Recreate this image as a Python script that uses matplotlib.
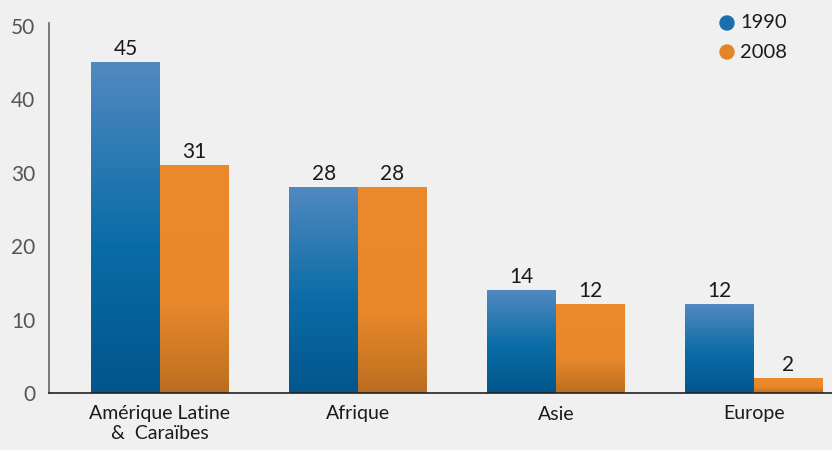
import numpy as np
import matplotlib
matplotlib.use("Agg")
import matplotlib.pyplot as plt
from matplotlib.colors import LinearSegmentedColormap
from matplotlib.patches import Ellipse

categories = ["Amérique Latine\n&  Caraïbes", "Afrique", "Asie", "Europe"]
series_names = ["1990", "2008"]
values_1990 = [45, 28, 14, 12]
values_2008 = [31, 28, 12, 2]
yticks = [0, 10, 20, 30, 40, 50]

bg = "#eff0ef"
plt.rcParams['font.family'] = ['Lato', 'DejaVu Sans']

fig = plt.figure(figsize=(8.32, 4.5), dpi=100, facecolor=bg)
ax = fig.add_axes([49/832, 1-393/450, 1-49/832, 370/450], facecolor=bg)

blue_cmap = LinearSegmentedColormap.from_list(
    "b", [(0, "#03558c"), (0.45, "#0a6ca6"), (1.0, "#5189c0")])
orange_cmap = LinearSegmentedColormap.from_list(
    "o", [(0, "#b86d22"), (0.12, "#c97723"), (0.4, "#e9882b"), (1.0, "#ea8a2c")])

x = np.arange(len(categories))
w = 0.346
grad = np.linspace(0, 1, 256).reshape(-1, 1)

for vals, cmap, off in [(values_1990, blue_cmap, -w/2),
                        (values_2008, orange_cmap, w/2)]:
    bars = ax.bar(x + off, vals, width=w, color="none", edgecolor="none")
    for b, v in zip(bars, vals):
        x0 = b.get_x()
        ax.imshow(grad, extent=[x0, x0 + w, 0, v], origin="lower",
                  cmap=cmap, aspect="auto", zorder=2)
        ax.text(x0 + w/2, v + 0.5, str(v), ha="center", va="bottom",
                fontsize=15, color="#1a1a1a")

ax.set_xlim(-0.56, 3.395)
ax.set_ylim(0, 50.4)
ax.set_yticks(yticks)
ax.set_yticklabels([str(t) for t in yticks], fontsize=15, color="#555555")
ax.set_xticks(x)
ax.set_xticklabels(categories, fontsize=14, color="#1a1a1a", linespacing=1.2)
ax.tick_params(axis="both", length=0)
ax.tick_params(axis="y", pad=10)
ax.tick_params(axis="x", pad=9)
for s in ["top", "right"]:
    ax.spines[s].set_visible(False)
ax.spines["left"].set_color("#666666")
ax.spines["left"].set_linewidth(1.2)
ax.spines["bottom"].set_color("#222222")
ax.spines["bottom"].set_linewidth(1.2)

# legend
for i, (name, col) in enumerate(zip(series_names, ["#1a6fb0", "#e2852b"])):
    yy = 1 - (23 + 29*i)/450
    fig.patches.append(Ellipse((727/832, yy), 14/832, 14/450, transform=fig.transFigure,
                               color=col, figure=fig))
    fig.text(740/832, yy, name, fontsize=14.5, color="#1a1a1a", va="center", ha="left")

fig.savefig("out.png", dpi=100, facecolor=bg)
